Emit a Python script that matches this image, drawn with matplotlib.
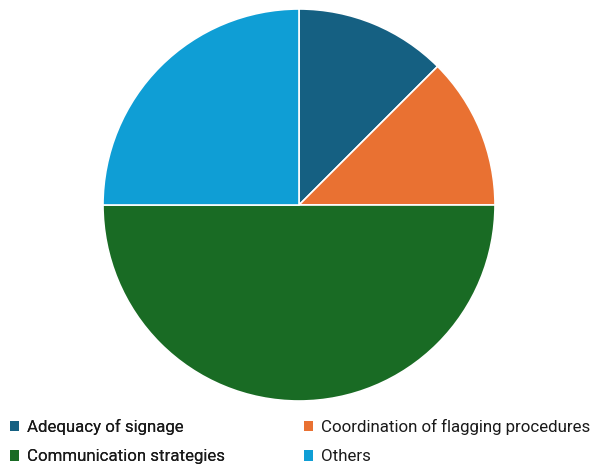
import matplotlib.pyplot as plt
from matplotlib.patches import Patch

labels = ['Adequacy of signage', 'Coordination of flagging procedures',
          'Communication strategies', 'Others']
values = [12.5, 12.5, 50, 25]
colors = ['#156082', '#E97132', '#196B24', '#0F9ED5']

plt.rcParams['font.family'] = ['Roboto', 'DejaVu Sans']

W, H = 597, 466
fig = plt.figure(figsize=(W / 100, H / 100), dpi=100)
cx, cy, r = 299, 205, 196
ax = fig.add_axes([(cx - r) / W, (H - cy - r) / H, 2 * r / W, 2 * r / H])
ax.pie(values, colors=colors, startangle=90, counterclock=False,
       wedgeprops=dict(edgecolor='white', linewidth=1.2), radius=1)
ax.set_xlim(-1, 1)
ax.set_ylim(-1, 1)
ax.set_aspect('equal')
ax.axis('off')

handles = [Patch(facecolor=c) for c in colors]
leg_kw = dict(frameon=False, fontsize=12.2, handlelength=0.55, handleheight=0.55,
              handletextpad=0.45, labelspacing=0.85, borderpad=0, borderaxespad=0,
              loc='upper left', labelcolor='#1a1a1a')
l1 = fig.legend([handles[0], handles[2]], [labels[0], labels[2]],
                bbox_to_anchor=(10 / W, 1 - 419 / H), **leg_kw)
fig.add_artist(l1)
fig.legend([handles[1], handles[3]], [labels[1], labels[3]],
           bbox_to_anchor=(304 / W, 1 - 419 / H), **leg_kw)

fig.savefig('out.png', dpi=100)
